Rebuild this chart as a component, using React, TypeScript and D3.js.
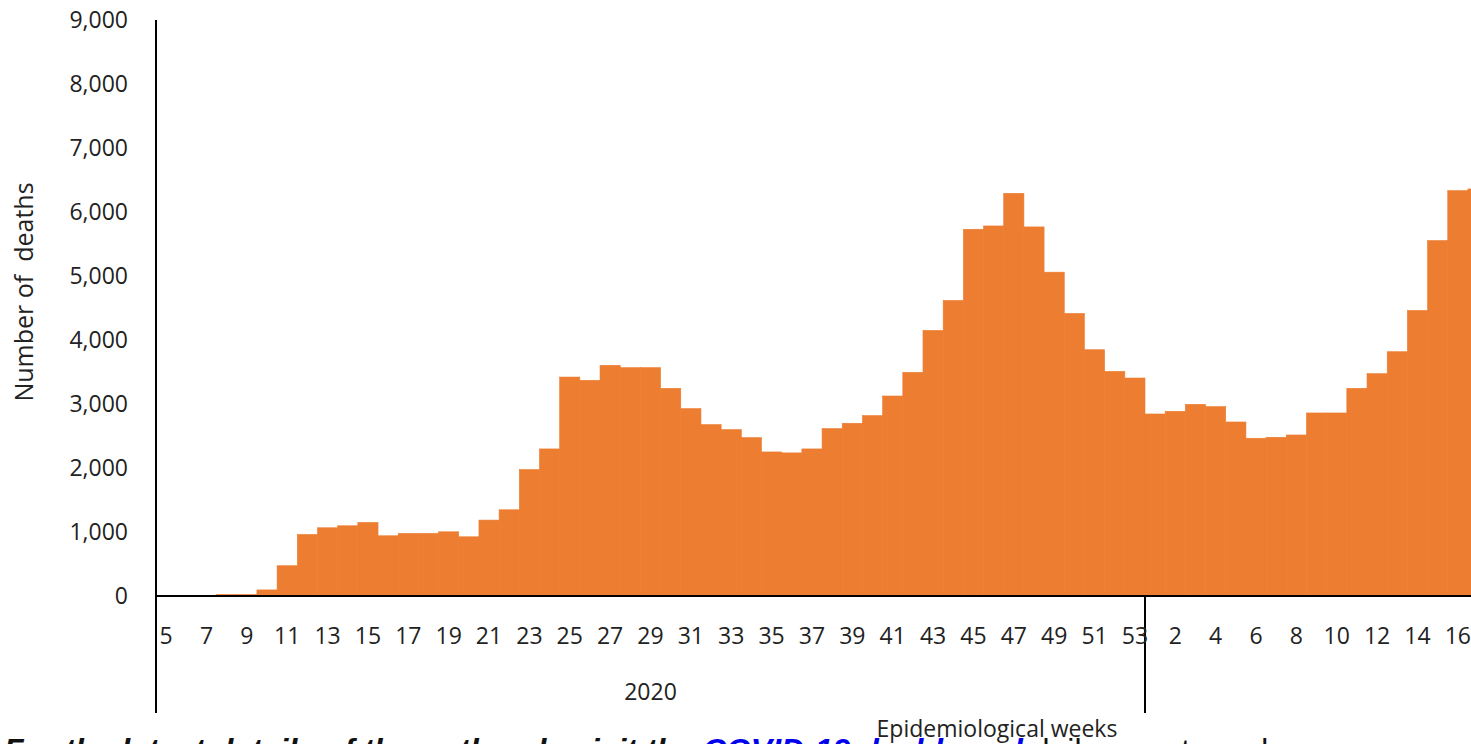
import React from "react";
import * as d3 from "d3";

// ---- data ----
const weeks2020: number[] = [5,6,7,8,9,10,11,12,13,14,15,16,17,18,19,20,21,22,23,24,25,26,27,28,29,30,31,32,33,34,35,36,37,38,39,40,41,42,43,44,45,46,47,48,49,50,51,52,53];
const deaths2020: number[] = [0,0,0,25,25,95,473,962,1066,1097,1149,941,978,978,1003,925,1186,1347,1976,2298,3421,3370,3604,3568,3568,3245,2928,2678,2600,2475,2251,2236,2298,2616,2699,2819,3125,3494,4150,4618,5730,5782,6292,5767,5060,4415,3848,3510,3406];
const weeks2021: number[] = [1,2,3,4,5,6,7,8,9,10,11,12,13,14,15,16,17];
const deaths2021: number[] = [2844,2886,2995,2959,2719,2465,2480,2516,2860,2860,3245,3474,3817,4462,5554,6334,6360];
const yTicks: number[] = [0,1000,2000,3000,4000,5000,6000,7000,8000,9000];
const yearLabels: string[] = ["2020", "2021"];

type Row = { key: string; year: string; week: number; value: number };
const rows: Row[] = [
  ...weeks2020.map((w, i) => ({ key: `2020-${w}`, year: "2020", week: w, value: deaths2020[i] })),
  ...weeks2021.map((w, i) => ({ key: `2021-${w}`, year: "2021", week: w, value: deaths2021[i] })),
];

const W = 1471, H = 744;
const left = 156;
const sep = 1145;
const bandW = (sep - left) / weeks2020.length;
const top = 20, bottom = 596;
const font = "'Open Sans', 'Noto Sans', sans-serif";

export default function App() {
  const x = d3.scaleBand<string>()
    .domain(rows.map(r => r.key))
    .range([left, left + rows.length * bandW])
    .padding(0);
  const y = d3.scaleLinear().domain([0, 9000]).range([bottom, top]);
  const fmt = d3.format(",");

  const showLabel = (r: Row) => (r.year === "2020" ? r.week % 2 === 1 : r.week % 2 === 0);

  const keys2020 = rows.filter(r => r.year === "2020").map(r => r.key);
  const center2020 = (x(keys2020[0])! + x(keys2020[keys2020.length - 1])! + x.bandwidth()) / 2;

  return (
    <svg width={W} height={H} style={{ position: "absolute", left: 0, top: 0, background: "#fff" }}>
      {/* bars */}
      <g>
        {rows.map(r => (
          <rect key={r.key} x={x(r.key)!} y={y(r.value)} width={x.bandwidth()} height={bottom - y(r.value)}
            fill="#ED7D31" stroke="#ED7D31" strokeWidth={0.6} />
        ))}
      </g>
      {/* y tick labels */}
      <g fontFamily={font} fontSize={23} fill="#222">
        {yTicks.map(t => (
          <text key={t} x={128} y={y(t)} dy="0.36em" textAnchor="end">{fmt(t)}</text>
        ))}
      </g>
      {/* y title */}
      <text transform={`translate(33, ${292}) rotate(-90)`} textAnchor="middle" fontFamily={font} fontSize={25} fill="#222" xmlSpace="preserve">Number of  deaths</text>
      {/* axes */}
      <line x1={left} x2={left} y1={top} y2={713} stroke="#000" strokeWidth={2} />
      <line x1={left} x2={W} y1={bottom} y2={bottom} stroke="#000" strokeWidth={2} />
      <line x1={sep} x2={sep} y1={bottom} y2={713} stroke="#000" strokeWidth={2} />
      {/* x labels */}
      <g fontFamily={font} fontSize={23} fill="#222" textAnchor="middle">
        {rows.filter(showLabel).map(r => (
          <text key={r.key} x={x(r.key)! + x.bandwidth() / 2} y={644}>{r.week}</text>
        ))}
        <text x={center2020} y={700}>{yearLabels[0]}</text>
      </g>
      <text x={997} y={737} textAnchor="middle" fontFamily={font} fontSize={23} fill="#222">Epidemiological weeks</text>
      {/* cut-off footnote text */}
      <text x={4} y={761} fontFamily="'Liberation Sans', Arial, sans-serif" fontSize={32} fontWeight="bold" fontStyle="italic" fill="#111">
        For the latest details of the outbreak, visit the <tspan fill="#0000ee">COVID-19 dashboard</tspan>
        <tspan fontWeight="normal" fontStyle="normal"> daily reports and more</tspan>
      </text>
    </svg>
  );
}
